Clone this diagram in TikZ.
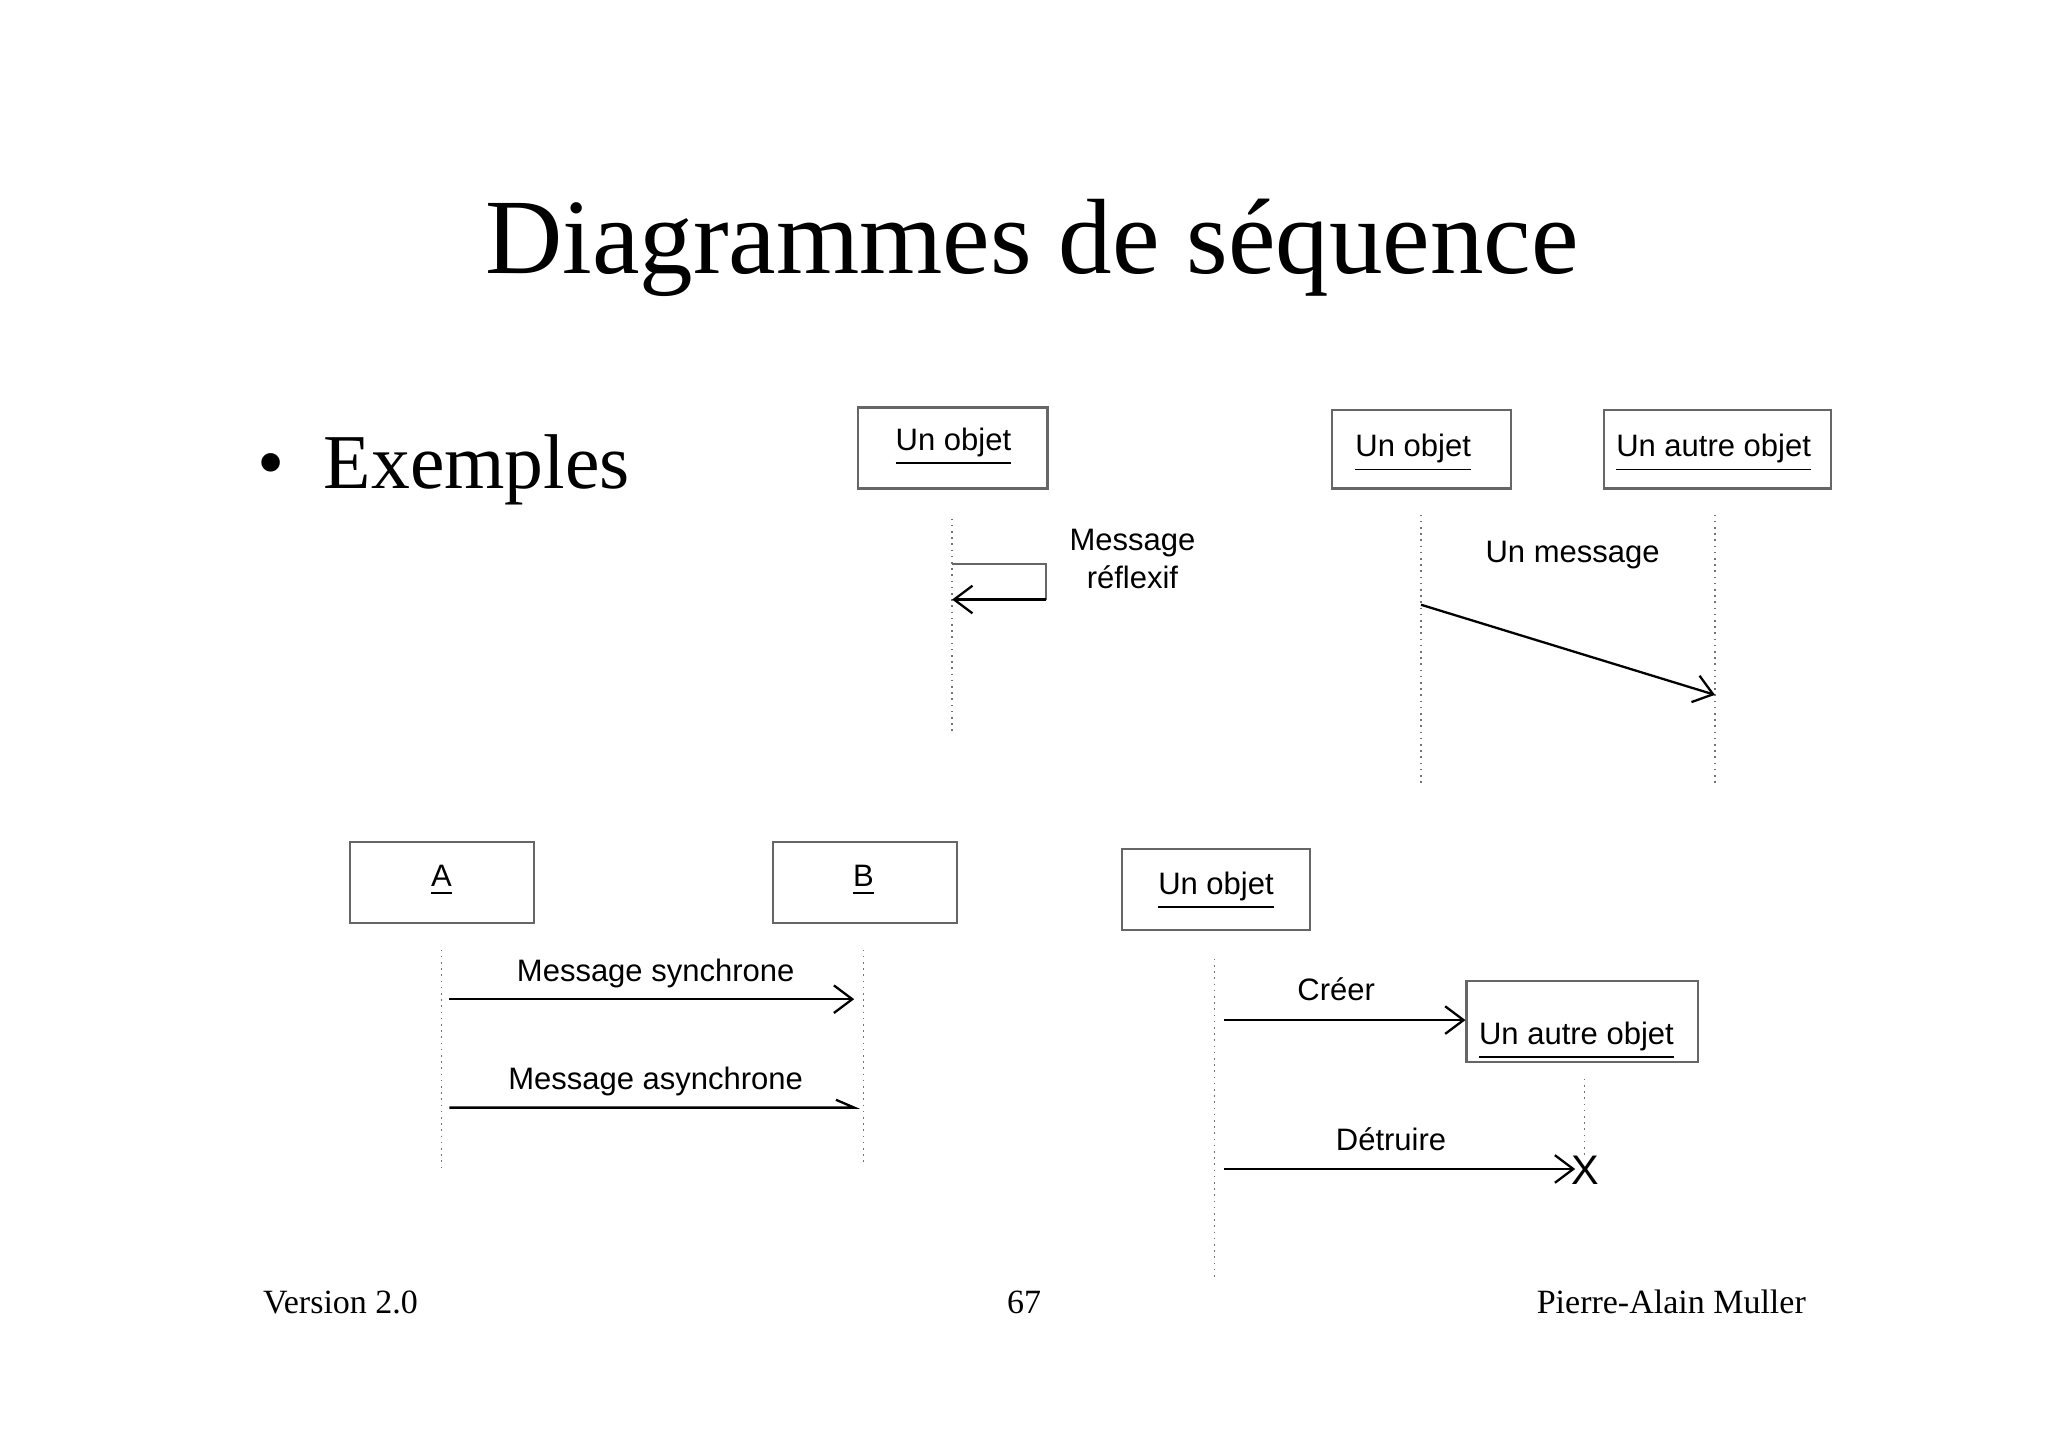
\documentclass[tikz,border=0pt]{standalone}
\usepackage{fontspec}
\setmainfont{Liberation Serif}
\newfontfamily\arial{Liberation Sans}
\usetikzlibrary{arrows.meta}
\begin{document}
\begin{tikzpicture}[x=0.01cm,y=-0.01cm,
  obj/.style={draw=black!60,line width=0.5pt,minimum width={#1*0.01cm},minimum height=0.62cm,inner sep=0,anchor=north west},
  lbl/.style={font=\arial\fontsize{6.75}{8.1}\selectfont},
  life/.style={black!55,line width=0.35pt,densely dotted},
  msg/.style={line width=0.5pt,-{Straight Barb[length=4pt,width=6pt]}}]
\useasboundingbox (0,0) rectangle (1568,1108);
\node[font=\fontsize{23.3}{28}\selectfont] at (790,190) {Diagrammes de séquence};
\node[font=\fontsize{16.9}{22}\selectfont,anchor=west] at (185,360) {\textbullet\ \ Exemples};
% top left
\node[obj=145] (o1) at (656,311) {};
\node[lbl,anchor=north] at (730,315) {\underline{Un objet}};
\coordinate (l1a) at (729,397); \coordinate (l1b) at (729,560);
\draw[life] (l1a) -- (l1b);
\coordinate (r1) at (729,432); \coordinate (r2) at (801,432); \coordinate (r3) at (801,459); \coordinate (r4) at (729,459);
\draw[black!60,line width=0.5pt] (r1) -- (r2) -- (r3);
\draw[msg] (r3) -- (r4);
\node[lbl,align=center] at (867,428) {Message\\ réflexif};
% top right
\node[obj=137,minimum height=0.6cm] (o2) at (1019,313) {};
\node[lbl,anchor=north] at (1082,320) {\underline{Un objet}};
\node[obj=174,minimum height=0.6cm] (o3) at (1227,313) {};
\node[lbl,anchor=north] at (1312,320) {\underline{Un autre objet}};
\draw[life] (1088,394) -- (1088,600);
\draw[life] (1313,394) -- (1313,600);
\coordinate (m1) at (1088,463); \coordinate (m2) at (1313,532);
\draw[msg] (m1) -- (m2);
\node[lbl] at (1204,425) {Un message};
% bottom left
\node[obj=141] (a) at (267,644) {};
\node[lbl,anchor=north] at (338,650) {\underline{A}};
\node[obj=141] (b) at (591,644) {};
\node[lbl,anchor=north] at (661,650) {\underline{B}};
\draw[life] (338,727) -- (338,895);
\draw[life] (661,727) -- (661,890);
\coordinate (s1) at (344,765); \coordinate (s2) at (654,765);
\draw[msg] (s1) -- (s2);
\node[lbl] at (502,745) {Message synchrone};
\coordinate (as1) at (344,848); \coordinate (as2) at (654,848);
\draw[line width=0.5pt] (as1) -- (as2) -- ++(-14,-6);
\node[lbl] at (502,828) {Message asynchrone};
% bottom right
\node[obj=144] (o4) at (858,649) {};
\node[lbl,anchor=north] at (931,655) {\underline{Un objet}};
\draw[life] (930,734) -- (930,980);
\node[obj=177] (o5) at (1122,750) {};
\node[lbl,anchor=north] at (1207,770) {\underline{Un autre objet}};
\coordinate (c1) at (937,781);
\draw[msg] (c1) -- (o5.west |- c1);
\node[lbl] at (1023,757) {Créer};
\draw[life] (1213,826) -- (1213,885);
\coordinate (d1) at (937,895); \coordinate (d2) at (1206,895);
\draw[msg] (d1) -- (d2);
\node[font=\arial\fontsize{9}{10}\selectfont] at (1214,896) {X};
\node[lbl] at (1065,872) {Détruire};
% footer
\node[font=\fontsize{7.4}{9}\selectfont,anchor=west] at (189,997) {Version 2.0};
\node[font=\fontsize{7.4}{9}\selectfont] at (784,997) {67};
\node[font=\fontsize{7.4}{9}\selectfont,anchor=east] at (1395,997) {Pierre-Alain Muller};
\end{tikzpicture}
\end{document}
